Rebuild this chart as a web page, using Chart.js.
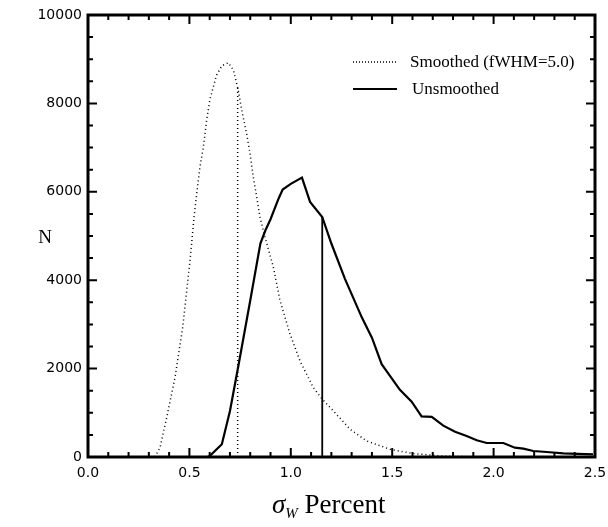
<!DOCTYPE html>
<html>
<head>
<meta charset="utf-8">
<script src="https://cdn.jsdelivr.net/npm/chart.js@4.4.1/dist/chart.umd.min.js"></script>
<style>
  html, body { margin: 0; padding: 0; background: #fff; }
</style>
</head>
<body>
<canvas id="sigmaw" width="608" height="527"></canvas>
<script>
// values
var smoothX = [0.33, 0.355, 0.388, 0.429, 0.467, 0.503, 0.523, 0.536, 0.552, 0.569, 0.585, 0.602, 0.634, 0.66, 0.692, 0.717, 0.741, 0.758, 0.782, 0.799, 0.815, 0.832, 0.848, 0.873, 0.914, 0.947, 0.996, 1.045, 1.111, 1.155, 1.21, 1.292, 1.374, 1.489, 1.6, 1.75, 1.95];
var smoothY = [0, 211, 891, 1798, 2932, 4444, 5427, 5957, 6560, 7013, 7619, 8111, 8639, 8850, 8920, 8753, 8300, 7846, 7317, 6863, 6334, 5880, 5427, 4973, 4293, 3537, 2782, 2177, 1571, 1308, 1043, 628, 363, 175, 80, 20, 0];

var rawX = [0.59, 0.60, 0.66, 0.70, 0.74, 0.80, 0.85, 0.875, 0.90, 0.94, 0.96, 1.0, 1.055, 1.095, 1.155, 1.20, 1.267, 1.35, 1.40, 1.448, 1.538, 1.596, 1.645, 1.695, 1.752, 1.81, 1.867, 1.917, 1.966, 2.048, 2.105, 2.147, 2.196, 2.262, 2.344, 2.49];
var rawY = [0, 23, 290, 1040, 2025, 3540, 4830, 5130, 5380, 5850, 6050, 6180, 6320, 5770, 5430, 4830, 4030, 3160, 2700, 2100, 1520, 1250, 920, 910, 710, 570, 476, 378, 317, 317, 211, 188, 136, 113, 84, 61];

// vertical markers
var smoothMark = [0.738, 8350];
var rawMark = [1.155, 5430];

var xTicks = [0, 0.5, 1.0, 1.5, 2.0, 2.5];
var yTicks = [0, 2000, 4000, 6000, 8000, 10000];

var legendLabels = ['Smoothed (fWHM=5.0)', 'Unsmoothed'];

function pts(xs, ys) {
  return xs.map(function(v, i) { return {x: v, y: ys[i]}; });
}

// frame, inward ticks, legend and axis titles drawn by hand
var decorations = {
  id: 'decorations',
  afterDatasetsDraw: function(chart) {
    var ctx = chart.ctx, a = chart.chartArea, x = chart.scales.x, y = chart.scales.y;
    ctx.save();
    ctx.strokeStyle = '#000';
    ctx.lineWidth = 2;
    ctx.beginPath();
    for (var i = 0; i <= 25; i++) {
      var px = x.getPixelForValue(i / 10);
      var len = i % 5 === 0 ? 9 : 5;
      ctx.moveTo(px, a.bottom); ctx.lineTo(px, a.bottom - len);
      ctx.moveTo(px, a.top); ctx.lineTo(px, a.top + len);
    }
    for (var v = 0; v <= 10000; v += 500) {
      var py = y.getPixelForValue(v);
      var l = v % 2000 === 0 ? 9 : 5;
      ctx.moveTo(a.left, py); ctx.lineTo(a.left + l, py);
      ctx.moveTo(a.right, py); ctx.lineTo(a.right - l, py);
    }
    ctx.stroke();

    ctx.lineWidth = 3;
    ctx.strokeRect(a.left, a.top, a.right - a.left, a.bottom - a.top);

    // legend
    ctx.lineWidth = 1.3;
    ctx.setLineDash([1, 2]);
    ctx.beginPath(); ctx.moveTo(353, 62); ctx.lineTo(397, 62); ctx.stroke();
    ctx.setLineDash([]);
    ctx.lineWidth = 2;
    ctx.beginPath(); ctx.moveTo(353, 89); ctx.lineTo(397, 89); ctx.stroke();
    ctx.fillStyle = '#000';
    ctx.font = '17px "Liberation Serif", serif';
    ctx.textBaseline = 'middle';
    ctx.textAlign = 'left';
    ctx.fillText(legendLabels[0], 410, 63);
    ctx.fillText(legendLabels[1], 412, 90);

    // y title
    ctx.font = '19px "Liberation Serif", serif';
    ctx.textAlign = 'center';
    ctx.fillText('N', 45, 238);

    // x title: sigma with subscript W, then "Percent"
    var main = ' Percent';
    ctx.font = 'italic 27px "Liberation Serif", serif';
    var wS = ctx.measureText('\u03c3').width;
    ctx.font = 'italic 15px "Liberation Serif", serif';
    var wW = ctx.measureText('W').width;
    var x0 = 272;
    var base = 513;
    ctx.textAlign = 'left';
    ctx.textBaseline = 'alphabetic';
    ctx.font = 'italic 27px "Liberation Serif", serif';
    ctx.fillText('\u03c3', x0, base);
    ctx.font = 'italic 15px "Liberation Serif", serif';
    ctx.fillText('W', x0 + wS, base + 5);
    ctx.font = '27px "Liberation Serif", serif';
    ctx.fillText(main, x0 + wS + wW, base);
    ctx.restore();
  }
};

new Chart('sigmaw', {
  type: 'line',
  data: {
    datasets: [
      {
        label: legendLabels[0],
        data: pts(smoothX, smoothY),
        borderColor: '#000',
        borderWidth: 1.5,
        borderDash: [1, 3],
        pointRadius: 0,
        tension: 0,
        fill: false
      },
      {
        label: 'smooth marker',
        data: [{x: smoothMark[0], y: 0}, {x: smoothMark[0], y: smoothMark[1]}],
        borderColor: '#000',
        borderWidth: 1.5,
        borderDash: [1, 3],
        pointRadius: 0,
        fill: false
      },
      {
        label: legendLabels[1],
        data: pts(rawX, rawY),
        borderColor: '#000',
        borderWidth: 2.2,
        pointRadius: 0,
        tension: 0,
        fill: false
      },
      {
        label: 'raw marker',
        data: [{x: rawMark[0], y: 0}, {x: rawMark[0], y: rawMark[1]}],
        borderColor: '#000',
        borderWidth: 1.8,
        pointRadius: 0,
        fill: false
      }
    ]
  },
  options: {
    responsive: false,
    animation: false,
    layout: { padding: { left: 0, right: 13, top: 15, bottom: 0 } },
    plugins: {
      legend: { display: false },
      tooltip: { enabled: false }
    },
    scales: {
      x: {
        type: 'linear',
        min: 0,
        max: 2.5,
        afterFit: function(s) { s.height = 70; s.paddingRight = 0; s.paddingLeft = 0; },
        afterBuildTicks: function(s) { s.ticks = xTicks.map(function(v) { return {value: v}; }); },
        grid: { display: false, drawTicks: false },
        border: { display: false },
        ticks: {
          padding: 8,
          color: '#000',
          font: { family: '"DejaVu Sans", sans-serif', size: 14 },
          maxRotation: 0,
          callback: function(v) { return Number(v).toFixed(1); }
        }
      },
      y: {
        type: 'linear',
        min: 0,
        max: 10000,
        afterFit: function(s) { s.width = 88; s.paddingTop = 0; s.paddingBottom = 0; },
        afterBuildTicks: function(s) { s.ticks = yTicks.map(function(v) { return {value: v}; }); },
        grid: { display: false, drawTicks: false },
        border: { display: false },
        ticks: {
          padding: 6,
          color: '#000',
          font: { family: '"DejaVu Sans", sans-serif', size: 14 },
          callback: function(v) { return String(v); }
        }
      }
    }
  },
  plugins: [decorations]
});
</script>
</body>
</html>
